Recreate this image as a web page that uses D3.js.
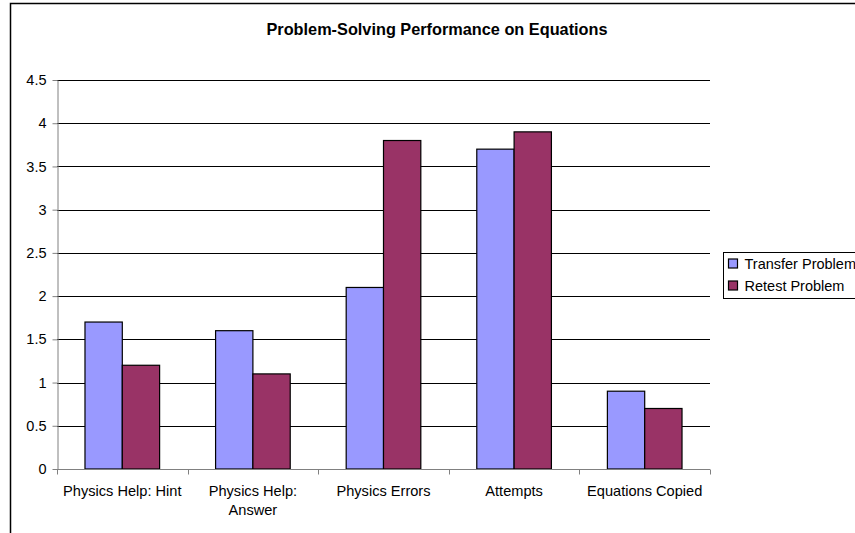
<!DOCTYPE html>
<html>
<head>
<meta charset="utf-8">
<script src="https://cdn.jsdelivr.net/npm/d3@7/dist/d3.min.js"></script>
<style>
  html, body { margin: 0; padding: 0; background: #fff; }
  svg { display: block; font-family: "Liberation Sans", Arial, sans-serif; }
</style>
</head>
<body>
<svg id="chart" width="855" height="533"></svg>
<script>
// Problem-solving measures, one group per category
const categories = [["Physics Help: Hint"], ["Physics Help:", "Answer"], ["Physics Errors"], ["Attempts"], ["Equations Copied"]];
const seriesNames = ["Transfer Problem", "Retest Problem"];
const transferValues = [1.7, 1.6, 2.1, 3.7, 0.9];
const retestValues = [1.2, 1.1, 3.8, 3.9, 0.7];
const yTicks = [0, 0.5, 1, 1.5, 2, 2.5, 3, 3.5, 4, 4.5];
const colors = ["#9999ff", "#993366"];

const svg = d3.select("#chart");
const plot = { left: 57, right: 710, top: 80, bottom: 469 };

// chart frame
svg.append("path")
  .attr("d", "M10.5,533 L10.5,3.5 L855,3.5")
  .attr("fill", "none").attr("stroke", "#000").attr("stroke-width", 1.5);

svg.append("text")
  .attr("x", 437).attr("y", 35)
  .attr("text-anchor", "middle")
  .attr("font-size", 16.3).attr("font-weight", "bold")
  .text("Problem-Solving Performance on Equations");

const x = d3.scaleBand()
  .domain(d3.range(categories.length))
  .range([plot.left, plot.right])
  .paddingInner(1.5 / 3.5).paddingOuter(0.75 / 3.5);
const xCat = d3.scaleBand().domain(d3.range(categories.length)).range([plot.left, plot.right]);
const xSub = d3.scaleBand().domain(d3.range(seriesNames.length)).range([0, x.bandwidth()]);
const y = d3.scaleLinear().domain([0, 4.5]).range([plot.bottom, plot.top]);

// horizontal gridlines
svg.append("g").selectAll("line")
  .data(yTicks.filter(t => t > 0))
  .join("line")
  .attr("x1", plot.left).attr("x2", plot.right)
  .attr("y1", d => Math.round(y(d)) + 0.5).attr("y2", d => Math.round(y(d)) + 0.5)
  .attr("stroke", "#000").attr("stroke-width", 1);

// bars
const series = [transferValues, retestValues];
series.forEach((vals, si) => {
  svg.append("g").selectAll("rect")
    .data(vals)
    .join("rect")
    .attr("x", (d, i) => x(i) + xSub(si))
    .attr("y", d => y(d))
    .attr("width", xSub.bandwidth())
    .attr("height", d => y(0) - y(d))
    .attr("fill", colors[si])
    .attr("stroke", "#000").attr("stroke-width", 1.2);
});

// y axis
const yAxis = svg.append("g")
  .attr("transform", `translate(${plot.left + 0.5},0)`)
  .call(d3.axisLeft(y).tickValues(yTicks).tickSize(5).tickSizeOuter(0).tickFormat(d3.format("")));
yAxis.select(".domain").attr("stroke", "#808080");
yAxis.selectAll(".tick line").attr("stroke", "#808080");
yAxis.selectAll(".tick text").attr("font-size", 14.5).attr("fill", "#000")
  .attr("font-family", "Liberation Sans, Arial, sans-serif").attr("x", -11);

// x axis
const xAxis = svg.append("g")
  .attr("transform", `translate(0,${plot.bottom + 0.5})`);
xAxis.append("line")
  .attr("x1", plot.left).attr("x2", plot.right)
  .attr("stroke", "#808080");
xAxis.selectAll(".xt")
  .data(d3.range(categories.length + 1))
  .join("line")
  .attr("x1", d => Math.round(d < categories.length ? xCat(d) : plot.right) + 0.5)
  .attr("x2", d => Math.round(d < categories.length ? xCat(d) : plot.right) + 0.5)
  .attr("y1", 0).attr("y2", 5)
  .attr("stroke", "#808080");
xAxis.selectAll(".xl")
  .data(categories)
  .join("text")
  .attr("text-anchor", "middle")
  .attr("font-size", 14.6)
  .each(function (lines, i) {
    const t = d3.select(this);
    lines.forEach((ln, j) => {
      t.append("tspan")
        .attr("x", xCat(i) + xCat.bandwidth() / 2)
        .attr("y", 26.5 + j * 19)
        .text(ln);
    });
  });

// legend
const legend = svg.append("g").attr("transform", "translate(723.5,252.5)");
legend.append("rect")
  .attr("width", 150).attr("height", 46)
  .attr("fill", "#fff").attr("stroke", "#000");
seriesNames.forEach((name, i) => {
  legend.append("rect")
    .attr("x", 5).attr("y", 6.5 + i * 22)
    .attr("width", 9).attr("height", 9)
    .attr("fill", colors[i]).attr("stroke", "#000").attr("stroke-width", 1.2);
  legend.append("text")
    .attr("x", 21).attr("y", 16 + i * 22)
    .attr("font-size", 14.5)
    .text(name);
});
</script>
</body>
</html>
